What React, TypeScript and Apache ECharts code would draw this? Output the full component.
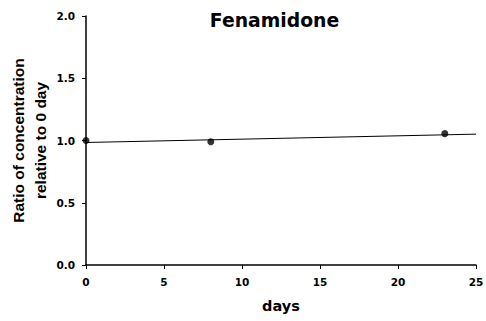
import React, { useEffect, useRef } from "react";
import * as echarts from "echarts";

const pointDays = [0, 8, 23];
const pointRatios = [1.0, 0.99, 1.055];
const fitDays = [0, 25];
const fitRatios = [0.984, 1.051];
const xTicks = [0, 5, 10, 15, 20, 25];
const yTicks = [0.0, 0.5, 1.0, 1.5, 2.0];

const WIDE = "'DejaVu Sans', sans-serif";
const NARROW = "'Liberation Sans', Arial, sans-serif";

export default function App() {
  const ref = useRef<HTMLDivElement>(null);
  useEffect(() => {
    const chart = echarts.init(ref.current!, null, { renderer: "svg" });
    chart.setOption({
      animation: false,
      backgroundColor: "#fff",
      title: {
        text: "Fenamidone",
        left: 269.5,
        textAlign: "center",
        top: 6,
        textStyle: { fontFamily: WIDE, fontWeight: "bold", fontSize: 18.8, color: "#000" },
      },
      grid: { left: 86, right: 10, top: 16, bottom: 56, containLabel: false, outerBoundsMode: "none" },
      xAxis: {
        type: "value",
        min: xTicks[0],
        max: xTicks[xTicks.length - 1],
        interval: 5,
        name: "days",
        nameLocation: "middle",
        nameGap: 33,
        nameMoveOverlap: false,
        nameTextStyle: { fontFamily: WIDE, fontWeight: "bold", fontSize: 14.5, color: "#000", verticalAlign: "top" },
        axisLine: { lineStyle: { color: "#000", width: 1.5 } },
        axisTick: { show: true, length: 4, lineStyle: { color: "#000" } },
        axisLabel: { fontFamily: WIDE, fontWeight: "bold", fontSize: 10.5, color: "#000", margin: 11 },
        splitLine: { show: false },
      },
      yAxis: {
        type: "value",
        min: yTicks[0],
        max: yTicks[yTicks.length - 1],
        interval: 0.5,
        name: "Ratio of concentration\nrelative to 0 day",
        nameLocation: "middle",
        nameRotate: 90,
        nameGap: 35,
        nameMoveOverlap: false,
        nameTextStyle: { fontFamily: NARROW, fontWeight: "bold", fontSize: 15.5, color: "#000", lineHeight: 22 },
        axisLine: { show: true, lineStyle: { color: "#000", width: 1.5 } },
        axisTick: { show: true, length: 4, lineStyle: { color: "#000" } },
        axisLabel: {
          fontFamily: WIDE,
          fontWeight: "bold",
          fontSize: 10.5,
          color: "#000",
          margin: 11,
          formatter: (v: number) => v.toFixed(1),
        },
        splitLine: { show: false },
      },
      series: [
        {
          type: "line",
          data: fitDays.map((d, i) => [d, fitRatios[i]]),
          symbol: "none",
          lineStyle: { color: "#000", width: 1 },
        },
        {
          type: "scatter",
          data: pointDays.map((d, i) => [d, pointRatios[i]]),
          symbol: "circle",
          symbolSize: 7,
          itemStyle: { color: "#000" },
        },
      ],
    });
    return () => chart.dispose();
  }, []);
  return <div ref={ref} style={{ width: 486, height: 321, position: "absolute", left: 0, top: 0 }} />;
}
